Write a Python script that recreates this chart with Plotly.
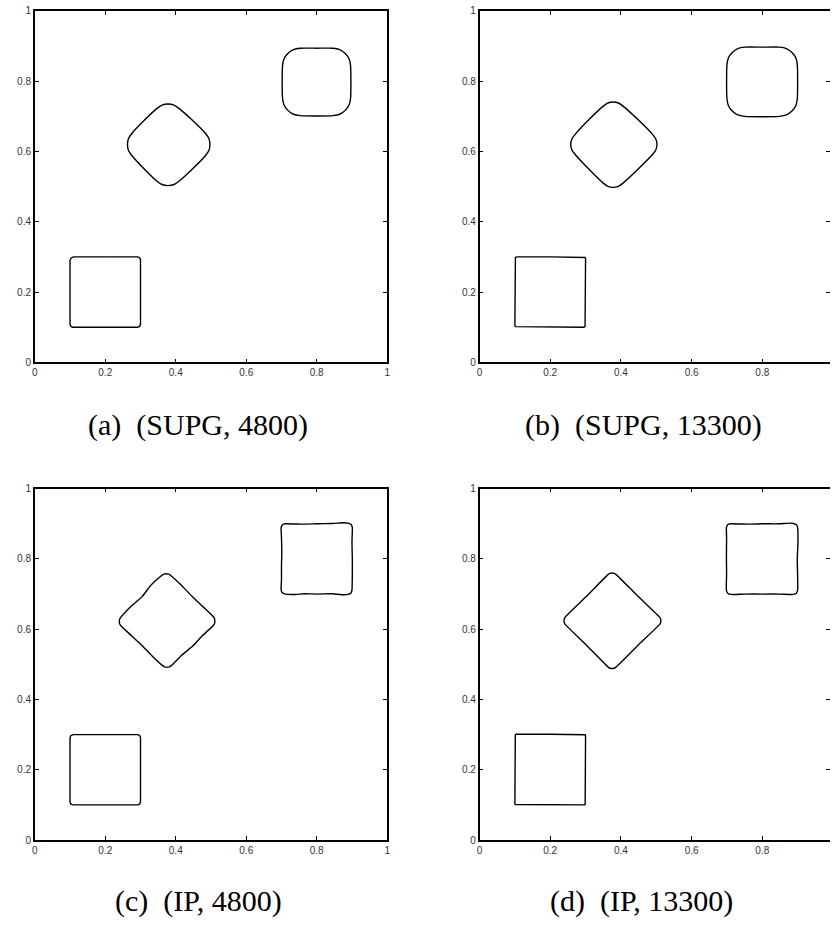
import plotly.graph_objects as go

# ---------------- data ----------------
tick_vals = [0, 0.2, 0.4, 0.6, 0.8, 1]
tick_text = ["0", "0.2", "0.4", "0.6", "0.8", "1"]
captions = ["(a)\u00a0\u00a0(SUPG,\u00a04800)", "(b)\u00a0\u00a0(SUPG,\u00a013300)",
            "(c)\u00a0\u00a0(IP,\u00a04800)", "(d)\u00a0\u00a0(IP,\u00a013300)"]

# panel (a) SUPG 4800
a_sq_x = [0.200, 0.292, 0.2977, 0.300, 0.300, 0.300, 0.2977, 0.292, 0.200, 0.108, 0.1023, 0.100, 0.100, 0.100, 0.103, 0.110, 0.200]
a_sq_y = [0.300, 0.300, 0.2977, 0.292, 0.200, 0.108, 0.1023, 0.100, 0.100, 0.100, 0.1023, 0.108, 0.200, 0.290, 0.297, 0.300, 0.300]
a_dia_x = [0.378, 0.395, 0.410, 0.448, 0.484, 0.494, 0.497, 0.494, 0.484, 0.448, 0.410, 0.395, 0.378, 0.361, 0.346, 0.310, 0.276, 0.266, 0.263, 0.266, 0.276, 0.310, 0.346, 0.361, 0.378]
a_dia_y = [0.735, 0.732, 0.722, 0.688, 0.652, 0.637, 0.620, 0.603, 0.588, 0.551, 0.516, 0.506, 0.503, 0.506, 0.516, 0.551, 0.588, 0.603, 0.620, 0.637, 0.652, 0.688, 0.722, 0.732, 0.735]
a_rsq_x = [0.800, 0.846, 0.865, 0.881, 0.892, 0.896, 0.897, 0.896, 0.892, 0.881, 0.865, 0.846, 0.800, 0.753, 0.734, 0.718, 0.707, 0.703, 0.702, 0.703, 0.707, 0.718, 0.734, 0.753, 0.800]
a_rsq_y = [0.894, 0.894, 0.890, 0.879, 0.863, 0.844, 0.798, 0.752, 0.733, 0.717, 0.706, 0.702, 0.701, 0.702, 0.706, 0.717, 0.733, 0.752, 0.798, 0.844, 0.863, 0.879, 0.890, 0.894, 0.894]

# panel (b) SUPG 13300
b_sq_x = [0.200, 0.295, 0.2985, 0.300, 0.300, 0.300, 0.2985, 0.295, 0.200, 0.105, 0.1015, 0.100, 0.100, 0.100, 0.1015, 0.105, 0.200]
b_sq_y = [0.300, 0.300, 0.2985, 0.295, 0.200, 0.105, 0.1015, 0.100, 0.100, 0.100, 0.1015, 0.105, 0.200, 0.295, 0.2985, 0.300, 0.300]
b_dia_x = [0.378, 0.393, 0.406, 0.449, 0.490, 0.499, 0.502, 0.499, 0.490, 0.449, 0.406, 0.393, 0.378, 0.363, 0.350, 0.309, 0.270, 0.261, 0.258, 0.261, 0.270, 0.309, 0.350, 0.363, 0.378]
b_dia_y = [0.741, 0.738, 0.729, 0.690, 0.648, 0.635, 0.620, 0.605, 0.592, 0.550, 0.510, 0.501, 0.498, 0.501, 0.510, 0.550, 0.592, 0.605, 0.620, 0.635, 0.648, 0.690, 0.729, 0.738, 0.741]
b_rsq_x = [0.800, 0.849, 0.868, 0.884, 0.895, 0.899, 0.900, 0.899, 0.895, 0.884, 0.868, 0.849, 0.800, 0.750, 0.731, 0.715, 0.704, 0.700, 0.699, 0.700, 0.704, 0.715, 0.731, 0.750, 0.800]
b_rsq_y = [0.897, 0.897, 0.893, 0.882, 0.866, 0.847, 0.798, 0.750, 0.731, 0.715, 0.704, 0.700, 0.699, 0.700, 0.704, 0.715, 0.731, 0.750, 0.798, 0.847, 0.866, 0.882, 0.893, 0.897, 0.897]

# panel (c) IP 4800
c_sq_x = [0.200, 0.292, 0.2977, 0.300, 0.300, 0.300, 0.2977, 0.292, 0.200, 0.108, 0.1023, 0.100, 0.100, 0.100, 0.1025, 0.109, 0.200]
c_sq_y = [0.300, 0.300, 0.2977, 0.292, 0.200, 0.108, 0.1023, 0.100, 0.100, 0.100, 0.1023, 0.108, 0.200, 0.291, 0.2975, 0.300, 0.300]
c_dia_x = [0.373, 0.380, 0.386, 0.416, 0.446, 0.476, 0.506, 0.510, 0.511, 0.510, 0.506, 0.476, 0.448, 0.417, 0.388, 0.382, 0.375, 0.368, 0.362, 0.333, 0.302, 0.275, 0.245, 0.241, 0.240, 0.241, 0.245, 0.274, 0.304, 0.330, 0.360, 0.366, 0.373]
c_dia_y = [0.758, 0.757, 0.753, 0.725, 0.694, 0.665, 0.636, 0.630, 0.623, 0.616, 0.610, 0.582, 0.552, 0.526, 0.497, 0.493, 0.492, 0.493, 0.497, 0.524, 0.556, 0.581, 0.609, 0.615, 0.622, 0.629, 0.635, 0.666, 0.692, 0.726, 0.753, 0.757, 0.758]
c_rsq_x = [0.711, 0.760, 0.800, 0.845, 0.878, 0.889, 0.8975, 0.901, 0.900, 0.901, 0.901, 0.900, 0.897, 0.889, 0.870, 0.845, 0.800, 0.765, 0.740, 0.711, 0.7025, 0.699, 0.700, 0.700, 0.701, 0.700, 0.699, 0.7025, 0.711]
c_rsq_y = [0.900, 0.899, 0.900, 0.901, 0.903, 0.902, 0.898, 0.889, 0.850, 0.800, 0.760, 0.712, 0.703, 0.699, 0.698, 0.701, 0.700, 0.701, 0.699, 0.700, 0.7035, 0.712, 0.740, 0.780, 0.820, 0.860, 0.889, 0.8975, 0.900]

# panel (d) IP 13300
d_sq_x = [0.200, 0.296, 0.2988, 0.300, 0.300, 0.300, 0.2988, 0.296, 0.200, 0.104, 0.1012, 0.100, 0.100, 0.100, 0.1012, 0.104, 0.200]
d_sq_y = [0.301, 0.301, 0.2998, 0.297, 0.200, 0.104, 0.1012, 0.100, 0.100, 0.100, 0.1012, 0.104, 0.200, 0.297, 0.2998, 0.301, 0.301]
d_dia_x = [0.375, 0.381, 0.386, 0.447, 0.509, 0.512, 0.513, 0.512, 0.509, 0.447, 0.386, 0.381, 0.375, 0.369, 0.364, 0.304, 0.243, 0.240, 0.239, 0.240, 0.243, 0.304, 0.364, 0.369, 0.375]
d_dia_y = [0.760, 0.759, 0.756, 0.695, 0.635, 0.630, 0.624, 0.618, 0.613, 0.553, 0.492, 0.489, 0.488, 0.489, 0.492, 0.553, 0.613, 0.618, 0.624, 0.630, 0.635, 0.695, 0.756, 0.759, 0.760]
d_rsq_x = [0.711, 0.760, 0.800, 0.845, 0.880, 0.888, 0.8965, 0.900, 0.901, 0.899, 0.900, 0.900, 0.8965, 0.888, 0.850, 0.800, 0.750, 0.711, 0.702, 0.6985, 0.699, 0.6985, 0.699, 0.6985, 0.702, 0.711]
d_rsq_y = [0.900, 0.899, 0.900, 0.900, 0.902, 0.901, 0.8975, 0.889, 0.850, 0.800, 0.750, 0.711, 0.7025, 0.699, 0.700, 0.700, 0.700, 0.699, 0.7025, 0.711, 0.760, 0.810, 0.860, 0.889, 0.8975, 0.900]

panels = [
    [(a_sq_x, a_sq_y), (a_dia_x, a_dia_y), (a_rsq_x, a_rsq_y)],
    [(b_sq_x, b_sq_y), (b_dia_x, b_dia_y), (b_rsq_x, b_rsq_y)],
    [(c_sq_x, c_sq_y), (c_dia_x, c_dia_y), (c_rsq_x, c_rsq_y)],
    [(d_sq_x, d_sq_y), (d_dia_x, d_dia_y), (d_rsq_x, d_rsq_y)],
]
line_shapes = ["linear", "spline", "spline"]

# ---------------- layout ----------------
W, H = 833, 926
# plot areas in pixels (left, right, top, bottom)
boxes = [(32, 387, 5, 361), (480, 836, 5, 361), (32, 387, 489, 845), (480, 836, 489, 845)]
cap_pos = [(196.5, 424), (645, 424), (196.5, 907), (643, 907)]

fig = go.Figure()
tick_font = dict(family="Liberation Sans, Arial, sans-serif", size=10, color="#333333")

for i, shapes in enumerate(panels):
    n = i + 1
    xa = "x" if n == 1 else f"x{n}"
    ya = "y" if n == 1 else f"y{n}"
    for k, (sx, sy) in enumerate(shapes):
        fig.add_trace(go.Scatter(x=sx, y=sy, mode="lines", xaxis=xa, yaxis=ya,
                                 line=dict(color="black", width=1.4, shape=line_shapes[k],
                                           smoothing=0.5),
                                 showlegend=False, hoverinfo="skip"))
    l, r, t, b = boxes[i]
    r_vis = min(r, W)
    xmax = (r_vis - l) / (r - l)
    xkey = "xaxis" if n == 1 else f"xaxis{n}"
    ykey = "yaxis" if n == 1 else f"yaxis{n}"
    cut = r > W
    fig.update_layout(**{
        xkey: dict(domain=[l / W, r_vis / W], range=[0, xmax], anchor=ya,
                   tickvals=tick_vals, ticktext=tick_text, ticks="inside", ticklen=4,
                   tickcolor="black", tickwidth=1, showline=True, linecolor="black",
                   linewidth=1.5, mirror="ticks", showgrid=False, zeroline=False,
                   tickfont=tick_font, fixedrange=True),
        ykey: dict(domain=[1 - b / H, 1 - t / H], range=[0, 1], anchor=xa,
                   tickvals=tick_vals, ticktext=tick_text, ticks="inside", ticklen=4,
                   tickcolor="black", tickwidth=1, showline=True, linecolor="black",
                   linewidth=1.5, mirror=(False if cut else "ticks"), showgrid=False,
                   zeroline=False, tickfont=tick_font, fixedrange=True),
    })
    if cut:
        # right-side ticks of the clipped frame (the frame line itself lies beyond the page)
        m = n + 4
        fig.add_trace(go.Scatter(x=[None], y=[None], xaxis=xa, yaxis=f"y{m}",
                                 showlegend=False, hoverinfo="skip"))
        fig.update_layout(**{f"yaxis{m}": dict(overlaying=ya, anchor=xa, side="right",
                                                range=[0, 1], tickvals=tick_vals,
                                                ticks="inside", ticklen=4, tickcolor="black",
                                                tickwidth=1, showline=False, showgrid=False,
                                                zeroline=False, showticklabels=False,
                                                fixedrange=True)})
    cx, cy = cap_pos[i]
    fig.add_annotation(x=cx / W, y=1 - cy / H, xref="paper", yref="paper",
                       text=captions[i], showarrow=False, xanchor="center", yanchor="middle",
                       font=dict(family="Liberation Serif, Times New Roman, serif", size=30,
                                 color="black"))

fig.update_layout(width=W, height=H, margin=dict(l=0, r=0, t=0, b=0),
                  paper_bgcolor="white", plot_bgcolor="white", showlegend=False)

fig.write_html("out.html", config={"displayModeBar": False})
